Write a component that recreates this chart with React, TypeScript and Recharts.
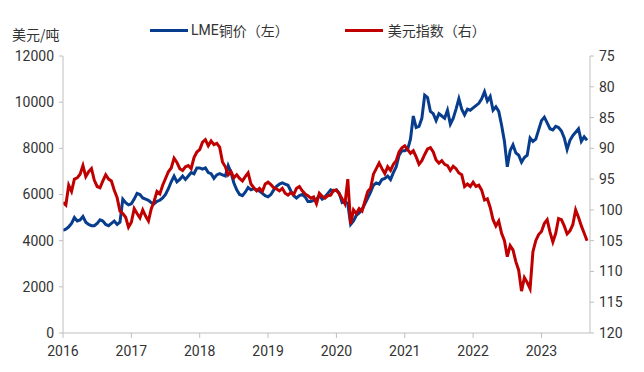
import { Line, LineChart, XAxis, YAxis } from 'recharts'

// half-month samples, 2016-01 .. 2023-08
const CU_2016 = [4450, 4500, 4600, 4750, 5000, 4850, 4900, 5050, 4800, 4700, 4650, 4650, 4750, 4900, 4850, 4700, 4650, 4750, 4850, 4700, 4800, 5800, 5650, 5550]
const CU_2017 = [5600, 5800, 6050, 6000, 5850, 5800, 5750, 5650, 5600, 5700, 5750, 5850, 6000, 6250, 6550, 6800, 6550, 6650, 6800, 6650, 6800, 6950, 6900, 7150]
const CU_2018 = [7150, 7100, 7150, 6950, 6900, 6700, 6850, 6900, 6850, 6800, 7250, 6950, 6500, 6200, 6000, 5950, 6100, 6300, 6200, 6250, 6200, 6150, 6050, 5950]
const CU_2019 = [5900, 6000, 6200, 6350, 6450, 6500, 6450, 6400, 6150, 5950, 5850, 5950, 6000, 5900, 5700, 5700, 5750, 5800, 5950, 5800, 5900, 6050, 6200, 6150]
const CU_2020 = [6200, 6050, 5650, 5700, 5600, 4700, 4850, 5100, 5200, 5350, 5600, 5850, 6100, 6400, 6500, 6450, 6650, 6700, 6800, 6650, 6950, 7200, 7700, 7900]
const CU_2021 = [7900, 7950, 8400, 9400, 8900, 8950, 9300, 10300, 10200, 9600, 9500, 9200, 9500, 9400, 9300, 9650, 9050, 9300, 9700, 10150, 9700, 9450, 9700, 9650]
const CU_2022 = [9750, 9850, 9950, 10150, 10450, 10050, 10250, 9650, 9800, 9600, 9000, 8300, 7200, 7900, 8150, 7800, 7700, 7400, 7600, 7700, 8450, 8300, 8400, 8800]
const CU_2023 = [9200, 9350, 9100, 8850, 8800, 8950, 8900, 8750, 8450, 7950, 8350, 8550, 8700, 8850, 8300, 8500, 8350]

const DXY_2016 = [98.8, 99.2, 96.0, 97.0, 95.0, 94.8, 94.2, 92.8, 94.6, 93.8, 93.3, 95.2, 96.2, 96.4, 95.3, 94.3, 95.0, 95.3, 96.8, 98.0, 100.2, 100.6, 101.2, 102.8]
const DXY_2017 = [102.0, 99.8, 100.6, 101.3, 100.0, 101.0, 101.8, 99.8, 98.6, 97.0, 97.4, 96.0, 94.9, 93.8, 93.2, 91.6, 92.3, 93.3, 93.6, 93.0, 92.8, 93.3, 91.5, 90.6]
const DXY_2018 = [90.2, 89.0, 88.6, 89.6, 88.8, 89.4, 89.2, 89.8, 92.2, 93.0, 94.3, 93.8, 94.8, 94.3, 94.9, 95.3, 94.6, 94.0, 95.8, 96.4, 96.9, 96.5, 97.0, 95.8]
const DXY_2019 = [95.5, 95.9, 96.4, 96.6, 96.9, 96.5, 97.3, 97.6, 97.2, 97.5, 96.5, 96.2, 96.9, 97.4, 97.7, 98.1, 97.9, 99.0, 97.3, 97.8, 98.1, 97.7, 97.6, 96.8]
const DXY_2020 = [96.8, 97.4, 98.2, 99.0, 95.0, 102.3, 100.0, 100.6, 99.8, 100.2, 98.6, 97.0, 96.5, 94.2, 93.3, 92.4, 93.3, 94.1, 93.0, 93.6, 92.6, 92.0, 90.6, 89.9]
const DXY_2021 = [89.6, 90.2, 90.8, 90.4, 91.4, 92.6, 92.0, 91.0, 90.1, 89.9, 90.6, 91.9, 92.4, 92.0, 92.6, 92.8, 93.6, 92.9, 93.3, 94.0, 94.3, 96.2, 95.8, 96.2]
const DXY_2022 = [95.5, 96.2, 96.0, 96.8, 98.4, 98.2, 99.6, 101.6, 102.6, 101.8, 103.8, 105.0, 107.6, 105.8, 106.5, 108.4, 109.8, 113.2, 111.0, 111.8, 112.8, 106.8, 105.0, 104.0]
const DXY_2023 = [103.5, 102.2, 101.6, 103.6, 105.2, 103.8, 101.4, 101.6, 102.6, 103.9, 103.4, 102.4, 100.0, 101.2, 102.6, 103.8, 105.0]

const COPPER = [...CU_2016, ...CU_2017, ...CU_2018, ...CU_2019, ...CU_2020, ...CU_2021, ...CU_2022, ...CU_2023]
const DXY = [...DXY_2016, ...DXY_2017, ...DXY_2018, ...DXY_2019, ...DXY_2020, ...DXY_2021, ...DXY_2022, ...DXY_2023]

const YEARS = [2016, 2017, 2018, 2019, 2020, 2021, 2022, 2023]
const LEFT_TICKS = [0, 2000, 4000, 6000, 8000, 10000, 12000]
const RIGHT_TICKS = [75, 80, 85, 90, 95, 100, 105, 110, 115, 120]

const data = COPPER.map((cu, i) => ({ t: 2016 + i / 24, cu, dxy: DXY[i] }))

const BLUE = '#073d8c'
const RED = '#c00000'
const AXIS = '#bfbfbf'
const tick = { fontSize: 14, fill: '#333', fontFamily: 'Roboto, "Noto Sans", sans-serif' }
const cjk = '"Noto Sans CJK SC", sans-serif'

document.body.style.margin = '0'

export default function App() {
  return (
    <div style={{ position: 'relative', width: 644, height: 372, background: '#fff' }}>
      <div style={{ position: 'absolute', left: 12, top: 24, fontSize: 14, fontFamily: cjk, color: '#333' }}>美元/吨</div>
      <div style={{ position: 'absolute', left: 150, top: 20, display: 'flex', alignItems: 'center', fontSize: 14, color: '#333' }}>
        <span style={{ width: 38, height: 3, background: BLUE, display: 'inline-block', marginRight: 3 }} />
        <span style={{ fontFamily: 'Roboto, sans-serif' }}>LME</span>
        <span style={{ fontFamily: cjk }}>铜价（左）</span>
        <span style={{ width: 38, height: 3, background: RED, display: 'inline-block', marginLeft: 56, marginRight: 5 }} />
        <span style={{ fontFamily: cjk }}>美元指数（右）</span>
      </div>
      <LineChart width={644} height={372} data={data} margin={{ top: 56, right: 0, bottom: 0, left: 0 }}>
        <XAxis dataKey="t" type="number" domain={[2016, 2023.71]} ticks={YEARS} allowDataOverflow
          tick={tick} tickSize={5} tickMargin={8} stroke={AXIS} height={39} interval={0} />
        <YAxis yAxisId="l" domain={[0, 12000]} ticks={LEFT_TICKS} width={63} tick={tick}
          tickSize={4} tickMargin={5} stroke={AXIS} interval={0} />
        <YAxis yAxisId="r" orientation="right" reversed domain={[75, 120]} ticks={RIGHT_TICKS} width={54}
          tick={tick} tickSize={4} tickMargin={5} stroke={AXIS} interval={0} />
        <Line yAxisId="l" dataKey="cu" stroke={BLUE} strokeWidth={3} dot={false} isAnimationActive={false} />
        <Line yAxisId="r" dataKey="dxy" stroke={RED} strokeWidth={3} dot={false} isAnimationActive={false} />
      </LineChart>
    </div>
  )
}
